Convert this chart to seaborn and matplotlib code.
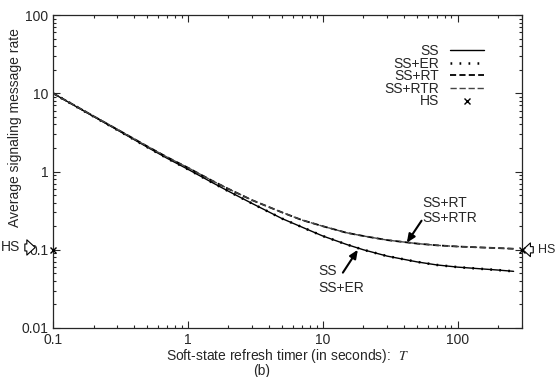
import numpy as np
import pandas as pd
import matplotlib
matplotlib.use('Agg')
import matplotlib.pyplot as plt
import seaborn as sns

# values (log-log chart)
T = [0.1, 0.15, 0.2, 0.3, 0.5, 0.7, 1, 1.5, 2, 3, 5, 7, 10, 15, 20, 30, 50, 70, 100, 150, 200, 260]
ss = [10.0, 6.7, 5.05, 3.4, 2.05, 1.48, 1.07, 0.73, 0.56, 0.39, 0.25, 0.195, 0.15, 0.117,
      0.10, 0.083, 0.07, 0.064, 0.06, 0.057, 0.055, 0.053]
ss_er = ss
ss_rt = [10.0, 6.75, 5.1, 3.45, 2.1, 1.53, 1.12, 0.77, 0.6, 0.43, 0.3, 0.24, 0.2, 0.165,
         0.15, 0.133, 0.12, 0.114, 0.11, 0.107, 0.105, 0.103]
ss_rtr = ss_rt
hs_T = [0.1, 300]
hs = [0.1, 0.1]

sns.set_style('ticks')
plt.rcParams['font.family'] = ['Liberation Sans', 'DejaVu Sans']
plt.rcParams['mathtext.fontset'] = 'stix'
plt.rcParams['xtick.direction'] = 'in'
plt.rcParams['ytick.direction'] = 'in'

fig = plt.figure(figsize=(5.55, 3.77), dpi=100)
ax = fig.add_axes([0.0955, 0.13, 0.845, 0.83])

sns.lineplot(x=T, y=ss, ax=ax, color='black', lw=1.0, label='SS')
sns.lineplot(x=T, y=ss_er, ax=ax, color='black', lw=1.8, linestyle=(0, (0.7, 2.9)), label='SS+ER')
sns.lineplot(x=T, y=ss_rt, ax=ax, color='black', lw=1.3, linestyle=(0, (3.4, 1.8)), label='SS+RT')
sns.lineplot(x=T, y=ss_rtr, ax=ax, color='#444444', lw=1.0, linestyle=(0, (4.5, 2.0)), label='SS+RTR')
ax.plot(hs_T, hs, ls='none', marker='x', ms=4, mew=1.0, color='black', clip_on=False, label='HS', zorder=5)

ax.set_xscale('log')
ax.set_yscale('log')
ax.set_xlim(0.1, 300)
ax.set_ylim(0.01, 100)
ax.tick_params(which='both', top=True, right=True, labelsize=10, width=0.8)
ax.tick_params(which='major', length=5)
ax.tick_params(which='minor', length=2.5)
for s in ax.spines.values():
    s.set_linewidth(0.9)
ax.set_xticks([0.1, 1, 10, 100])
ax.set_xticklabels(['0.1', '1', '10', '100'])
ax.set_yticks([0.01, 0.1, 1, 10, 100])
ax.set_yticklabels(['0.01', '0.1', '1', '10', '100'])

ax.set_ylabel('Average signaling message rate', fontsize=10)
ax.yaxis.set_label_coords(-0.066, 0.64)
ax.set_xlabel('Soft-state refresh timer (in seconds):  $T$', fontsize=10, labelpad=0)
fig.text(0.472, 0.016, '(b)', fontsize=10, ha='center', va='center')

leg = ax.legend(loc='upper right', bbox_to_anchor=(0.933, 0.93), frameon=False, markerfirst=False,
                fontsize=10, handlelength=2.4, labelspacing=-0.1, handletextpad=0.8, borderpad=0)

# curve annotations
arr = dict(arrowstyle='-|>,head_length=0.5,head_width=0.22', color='black', lw=1.5,
           shrinkA=0, shrinkB=0)
ax.annotate('', xy=(42, 0.123), xytext=(54, 0.235), arrowprops=arr)
ax.text(55, 0.40, 'SS+RT', fontsize=10, ha='left', va='center')
ax.text(55, 0.257, 'SS+RTR', fontsize=10, ha='left', va='center')
ax.annotate('', xy=(18.2, 0.1), xytext=(14.1, 0.051), arrowprops=arr)
ax.text(9.3, 0.054, 'SS', fontsize=10, ha='left', va='center')
ax.text(9.3, 0.0325, 'SS+ER', fontsize=10, ha='left', va='center')

# HS arrows at both axes
arrow = dict(arrowstyle='simple,head_length=0.6,head_width=1.1,tail_width=0.5',
             fc='white', ec='black', lw=0.8, shrinkA=1, shrinkB=0)
ax.annotate('HS', xy=(-0.038, 0.107), xycoords=('axes fraction', 'data'),
            xytext=(-15, 0), textcoords='offset pixels', ha='right', va='center',
            fontsize=10, arrowprops=arrow, annotation_clip=False)
ax.annotate('HS', xy=(1.002, 0.1), xycoords=('axes fraction', 'data'),
            xytext=(15, 0), textcoords='offset pixels', ha='left', va='center',
            fontsize=9, arrowprops=arrow, annotation_clip=False)

fig.savefig('out.png', dpi=100)
